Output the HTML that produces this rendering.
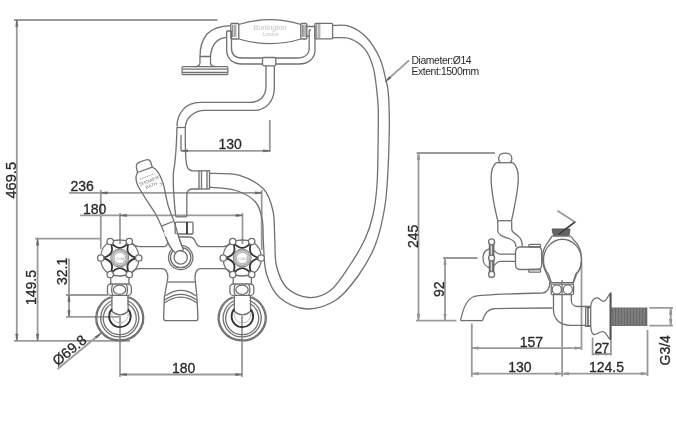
<!DOCTYPE html>
<html><head><meta charset="utf-8">
<style>
html,body{margin:0;padding:0;background:#fff;width:676px;height:421px;overflow:hidden}
svg{display:block}
text{font-family:"Liberation Sans",sans-serif;fill:#2a2a2a;stroke:#2a2a2a;stroke-width:0.3}
svg{will-change:transform}
.d{stroke:#9a9a9a;stroke-width:1.8;fill:none}
.o{stroke:#707070;stroke-width:1.3;fill:none}
.w{stroke:#707070;stroke-width:1.3;fill:#fff}
.k{stroke:#333;stroke-width:1.8;fill:none}
</style></head><body>
<svg width="676" height="421" viewBox="0 0 676 421">
<rect width="676" height="421" fill="#fff"/>

<!-- ===== LEFT VIEW DIMENSIONS ===== -->
<g class="d">
  <path d="M14 20H217.5"/>
  <path d="M16.8 20V340.5"/>
  <path d="M14 340.8H130"/>
  <path d="M37.6 238.7V340.5"/>
  <path d="M35 238.7H101"/>
  <path d="M69 258.6V317"/>
  <path d="M66 295H108"/>
  <path d="M66 316.8H120"/>
  <!-- 236 -->
  <path d="M69 192.9H262"/>
  <path d="M100.8 190V249"/>
  <path d="M261.7 190V250"/>
  <!-- 180 upper -->
  <path d="M80 215.4H243"/>
  <path d="M120 213V244"/>
  <path d="M242.5 213V244"/>
  <!-- 130 -->
  <path d="M181 150.8H269.8"/>
  <path d="M269.8 120V152"/>
  <!-- 180 lower -->
  <path d="M120 316V377"/>
  <path d="M242 316V377"/>
  <path d="M120 374.5H243"/>
  <!-- diameter leader -->
  <path d="M57.5 369L101 333.3"/>
  <!-- hose annotation leader -->
  <path d="M409 60.4L385.3 81.7"/>
</g>

<path d="M15.7 26.5L16.8 20.0L17.9 26.5ZM15.7 334.0L16.8 340.5L17.9 334.0ZM36.5 245.2L37.6 238.7L38.7 245.2ZM36.5 334.0L37.6 340.5L38.7 334.0ZM67.9 301.5L69.0 295.0L70.1 301.5ZM67.9 310.3L69.0 316.8L70.1 310.3ZM107.3 191.8L100.8 192.9L107.3 194.0ZM255.2 191.8L261.7 192.9L255.2 194.0ZM126.5 214.3L120.0 215.4L126.5 216.5ZM236.0 214.3L242.5 215.4L236.0 216.5ZM187.5 149.7L181.0 150.8L187.5 151.9ZM263.3 149.7L269.8 150.8L263.3 151.9ZM126.5 373.4L120.0 374.5L126.5 375.6ZM235.5 373.4L242.0 374.5L235.5 375.6ZM417.4 159.5L418.5 153.0L419.6 159.5ZM417.4 314.1L418.5 320.6L419.6 314.1ZM443.9 264.5L445.0 258.0L446.1 264.5ZM443.9 314.1L445.0 320.6L446.1 314.1ZM478.3 347.0L471.8 348.1L478.3 349.2ZM575.0 347.0L581.5 348.1L575.0 349.2ZM478.3 372.6L471.8 373.7L478.3 374.8ZM555.6 372.6L562.1 373.7L555.6 374.8ZM568.6 372.6L562.1 373.7L568.6 374.8ZM641.0 372.6L647.5 373.7L641.0 374.8ZM599.1 352.9L592.6 354.0L599.1 355.1ZM604.4 352.9L610.9 354.0L604.4 355.1ZM669.6 314.4L670.7 307.9L671.8 314.4ZM669.6 319.2L670.7 325.7L671.8 319.2ZM96.7 338.2L101.0 333.3L95.2 336.6ZM389.4 76.5L385.3 81.7L390.9 78.2Z" stroke="#666" stroke-width="0.6" fill="#666"/>
<!-- ===== LEFT VIEW TEXT ===== -->
<text x="0" y="0" font-size="14.6" transform="translate(15.5 198.5) rotate(-90)">469.5</text>
<text x="0" y="0" font-size="14" transform="translate(35.6 305) rotate(-90)">149.5</text>
<text x="0" y="0" font-size="14" transform="translate(67 285) rotate(-90)">32.1</text>
<text x="70.5" y="191" font-size="14">236</text>
<text x="83" y="214" font-size="14">180</text>
<text x="218.5" y="149" font-size="14">130</text>
<text x="172" y="373" font-size="14">180</text>
<text x="0" y="0" font-size="14.3" transform="translate(57.5 366.5) rotate(-39.5)">Ø69.8</text>
<text x="411.5" y="63.6" font-size="10.4" letter-spacing="-0.42" style="stroke:none">Diameter:Ø14</text>
<text x="411.5" y="75" font-size="10.4" letter-spacing="-0.42" style="stroke:none">Extent:1500mm</text>

<!-- ===== HANDSET ===== -->
<g class="o">
  <!-- shower plate -->
  <rect x="182.1" y="66.7" width="45.7" height="7.8" rx="1"/>
  <path d="M183 69.2H227M183 72.3H227"/>
  <!-- neck -->
  <path d="M200 56.5V63C200 65 198 66.3 195 66.7M210.5 56.5V63C210.5 65 212.5 66.3 215.5 66.7M199.5 56.5H211"/>
  <!-- arm -->
  <path d="M200 56.5C200 48 202 40 207 34C213 28 221 25.8 230.8 25.6"/>
  <path d="M210.5 56.5C211 50 213 45 216 42C219 39 222 37.5 226.7 37.3"/>
  <!-- handle body -->
  <path d="M238.7 24.5C251 20.8 261 19.7 270 19.7C279 19.7 289 20.8 301 24.5M238.7 39C251 42.6 261 43.6 270 43.6C279 43.6 289 42.6 301 39"/>
  <!-- ferrules -->
  <rect x="230.8" y="23.5" width="8" height="15.5" rx="1"/>
  <rect x="300.8" y="23.5" width="6" height="15.5" rx="1"/>
  <path d="M232.6 25V37M234.2 25V37M235.8 25V37M302.4 25V37M303.8 25V37M305.2 25V37" stroke="#777" stroke-width="0.9"/>
  <path d="M306.8 26.5H315M306.8 36H309.2"/>
  <!-- bracket -->
  <path d="M226.7 31V50C226.7 58 232 64 242 64H262.5M275.8 64H299C309 64 315 58 315 50V26"/>
  <path d="M231.5 31V48C231.5 54 235 58 242 58H262.5M275.8 58H297C305 58 309.2 54 309.2 48V30"/>
  <path d="M226.7 31H231.5M309.2 30H311"/>
  <!-- collar -->
  <rect x="262.5" y="57.5" width="13.3" height="8.3" rx="1.5"/>
  <!-- hose connector -->
  <rect x="314.8" y="23.4" width="17.8" height="15.4" rx="1"/>
  <path d="M316.6 24V38.2M318.2 24V38.2M319.8 24V38.2" stroke="#888" stroke-width="0.9"/>
  <!-- stem S-curve -->
  <path d="M274.3 65.8V88C274.3 101 266 110.4 254 110.4H205C194 110.4 185.3 118 185.3 128"/>
  <path d="M266 65.8V86C266 96 260 102.4 250 102.4H200C186 102.4 177 113 177 126.6"/>
  <path d="M176.8 127.5H185.5"/>
  <path d="M181 135V151"/>
</g>
<text x="270" y="30.2" font-size="7.4" text-anchor="middle" style="fill:#c2c2c2;font-style:italic;stroke:none">Burlington</text>
<text x="270.5" y="35.8" font-size="4.8" text-anchor="middle" style="fill:#c2c2c2;font-style:italic;stroke:none">London</text>

<!-- ===== HOSE ===== -->
<g class="o">
  <path d="M209.0 173.3C214.1 173.6 230.4 172.7 239.5 175.3C248.6 177.9 258.0 183.1 263.6 189.0C269.2 194.9 271.1 202.5 273.0 211.0C274.9 219.5 274.2 230.8 274.8 240.0C275.4 249.2 274.5 258.0 276.5 266.0C278.5 274.0 281.6 282.8 287.0 288.0C292.4 293.2 301.7 297.2 309.0 297.5C316.3 297.8 324.2 295.4 331.0 290.0C337.8 284.6 344.3 273.5 350.0 265.0C355.7 256.5 361.2 247.3 365.0 239.0C368.8 230.7 371.0 224.0 373.0 215.0C375.0 206.0 376.2 195.8 377.0 185.0C377.8 174.2 377.8 162.2 378.0 150.0C378.2 137.8 378.4 121.2 378.3 112.0C378.2 102.8 378.0 102.0 377.2 94.7C376.4 87.4 375.4 75.8 373.4 68.2C371.3 60.6 368.8 54.1 364.9 49.2C360.9 44.3 355.1 40.6 349.7 38.7C344.3 36.8 335.5 37.9 332.6 37.8"/>
  <path d="M209.0 187.2C213.5 187.8 228.2 188.0 236.0 190.5C243.8 193.0 251.1 197.1 255.5 202.0C259.9 206.9 261.0 212.8 262.3 220.0C263.6 227.2 262.8 236.0 263.5 245.0C264.2 254.0 263.8 265.2 266.5 274.0C269.2 282.8 273.2 292.2 280.0 298.0C286.8 303.8 297.7 308.7 307.0 309.0C316.3 309.3 327.5 305.5 336.0 300.0C344.5 294.5 351.4 285.2 358.0 276.0C364.6 266.8 370.8 256.5 375.3 245.0C379.8 233.5 382.7 219.5 384.8 207.0C386.9 194.5 387.2 182.8 388.0 170.0C388.8 157.2 389.1 140.8 389.3 130.0C389.5 119.2 389.2 111.7 389.0 105.0C388.8 98.3 388.5 94.2 388.0 90.0C387.5 85.8 387.1 84.8 385.8 79.6C384.5 74.4 383.2 65.7 380.0 58.7C376.8 51.7 371.9 43.2 366.8 37.8C361.8 32.4 355.4 28.5 349.7 26.4C344.0 24.3 335.5 25.6 332.6 25.4"/>
</g>

<!-- ===== DIVERTER BODY ===== -->
<g class="o">
  <path d="M177 127C176.5 145 175.8 160 173.5 172C172.5 185 174 200 175.7 216.5"/>
  <path d="M185.3 128C185.3 145 185 160 187 166C188 169 190 170.8 193 170.8H199"/>
  <path d="M199 189H192C188 189 186.8 192 186.8 196V216.5"/>
  <path d="M175.7 216.8H186.8"/>
  <rect x="199" y="170.8" width="10.5" height="18.2"/>
  <path d="M201.5 171V189M207 171V189"/>
  <!-- lever -->
  <path d="M137.5 172.5L136.4 167.2Q135.9 163.5 139.5 162.2L145.5 160Q149.6 158.8 150.8 162.2L152.3 167.2Z"/>
  <path d="M137.5 172.5C135.5 176 135.3 181 138.5 187C143 195 150 205 155 213C160 222 164 232 166.9 240C169 245 172 250 175.5 252.5"/>
  <path d="M152.3 167.2C157 169 161 177 163.2 183.4C165 190 166 198 168 205C170 212 174 220 175.8 226.9C176.8 230 177.6 233 178.4 236C179.5 240 181.5 245.5 183.6 250.3"/>
  <path d="M161 226.3L172.8 221.5"/>
  <!-- nut under diverter -->
  <rect x="175.2" y="222.1" width="17.8" height="11.9" rx="1"/>
  <path d="M187 222.1V234" stroke="#333" stroke-width="1.8"/>
  <path d="M175.2 234V237H189.4C193 237 195 240 196 243C197 245 198 246.5 200 246.5"/>
</g>
<g transform="translate(149.2 181.2) rotate(-21)">
  <path d="M-8 -5.2H8" stroke="#999" stroke-width="0.9" stroke-dasharray="1.5 1"/>
  <text x="0" y="1.2" font-size="4.6" text-anchor="middle" style="fill:#777;stroke:none">SHOWER</text>
  <text x="0.5" y="6.3" font-size="4.6" text-anchor="middle" style="fill:#777;stroke:none">BATH</text>
  <path d="M9 5.5L11.5 7.5L9 8.5" stroke="#999" stroke-width="0.8" fill="none"/>
</g>

<!-- ===== BODY BETWEEN TAPS ===== -->
<g class="o">
  <path d="M131.7 243.3C133.7 245.5 136 246.6 140 246.6H164.5C166.5 246.5 167.5 244 168 241.7"/>
  <path d="M200 246.6H223.5C226.5 246.6 228.8 245.3 230.8 243.3"/>
  <path d="M131.7 272.5C133.7 270 136 268.6 140 268.6H161.5C165.5 268.6 167.8 272 167.8 277.8L164.3 298L163.6 318C163.6 320 164.5 320.7 166 320.7H196C197.5 320.7 198 320 198 318L197 298L195 277.8C195 272 197 268.6 201 268.6H223.5C226.5 268.6 228.8 270 230.8 272.5"/>
  <path d="M168 282H194.8"/>
  <path d="M165.6 295.7Q180.7 285.1 195.8 295.7M164.6 300Q180.7 288.6 196.8 300M164.3 303Q180.7 291.2 197.1 303"/>
  <!-- diverter circle -->
  <circle cx="180.7" cy="257.5" r="12.2"/>
  <circle cx="180.7" cy="257.5" r="10.2"/>
  <circle cx="180.7" cy="257.5" r="6.6" fill="#fff"/>
  <path d="M163.5 232L177.9 234.5C179.3 239.5 181.5 245.5 183.6 250.3L176.5 253.2C172 250 168.5 244 166.5 239Z" fill="#fff" stroke="none"/>
  <path d="M165.5 236.5C167 241 169.5 246 172 249.5C173 251 174 252 175.5 252.8"/>
  <path d="M177.9 234.5C179.3 239.5 181.5 245.5 183.6 250.3"/>
  <path d="M175.5 252.8A6.6 6.6 0 0 1 183.6 251.5" />
</g>

<!-- ===== TAP (template) ===== -->
<defs>
  <g id="tap">
    <path class="o" d="M19.00 0.00Q19.31 11.15 9.50 16.45M9.50 16.45Q0.00 19.50 -9.50 16.45M-9.50 16.45Q-19.31 11.15 -19.00 0.00M-19.00 0.00Q-19.31 -11.15 -9.50 -16.45M-9.50 -16.45Q-0.00 -19.50 9.50 -16.45M9.50 -16.45Q19.31 -11.15 19.00 0.00"/>
    <path class="k" d="M19.00 0.00Q3.12 1.80 9.50 16.45Q0.00 3.60 -9.50 16.45Q-3.12 1.80 -19.00 0.00Q-3.12 -1.80 -9.50 -16.45Q-0.00 -3.60 9.50 -16.45Q3.12 -1.80 19.00 0.00Z" stroke-width="1.7"/>
    <circle r="8.9" fill="#fff" stroke="#808080" stroke-width="1.1"/>
    <circle r="7.4" fill="none" stroke="#b4b4b4" stroke-width="2"/><circle r="5.7" fill="none" stroke="#999" stroke-width="0.8"/>
    <text x="0" y="1.6" font-size="4.2" text-anchor="middle" style="fill:#aaa;stroke:none">Cold</text>
    <g class="w">
      <circle cx="-9.5" cy="-16.5" r="3.2"/>
      <circle cx="9.5" cy="-16.5" r="3.2"/>
      <circle cx="-19" cy="0" r="3.2"/>
      <circle cx="19" cy="0" r="3.2"/>
      <circle cx="-9.5" cy="16.5" r="3.2"/>
      <circle cx="9.5" cy="16.5" r="3.2"/>
    </g>
    <!-- nut -->
    <g class="o">
      <path d="M-9 19V26M9.2 19V26"/>
      <rect x="-12.3" y="26" width="23.9" height="11.4" rx="3.5"/>
      <ellipse cx="-0.2" cy="31.7" rx="6.2" ry="4.6"/>
      <path d="M-6.8 26.5C-8.6 28.5 -8.6 35 -6.8 37M6.4 26.5C8.2 28.5 8.2 35 6.4 37"/>
      <path d="M-7.85 37V53.2Q0.25 60.5 8.35 53.2V37"/>
    </g>
    <!-- flange -->
    <g class="o">
      <path d="M-7 39A23 22 0 1 0 7 39" transform="translate(0 0)"/>
    </g>
  </g>
  <g id="flange">
    <g class="o">
      <path d="M-9.5 -21.2A24 23 0 1 0 9.5 -21.2"/>
      <path d="M-7.5 -17.5A19 19 0 1 0 7.5 -17.5"/>
      <path d="M-7.5 -14.5A16.5 16.5 0 1 0 7.5 -14.5"/>
    </g>
    <path class="k" d="M-7.9 -8.8A10.8 10.8 0 1 0 8.4 -8.6" stroke-width="2.4" stroke="#3a3a3a"/><path d="M-7.9 -5A8.3 8.3 0 1 0 8.4 -5" fill="none" stroke="#aaa" stroke-width="0.8"/>
  </g>
</defs>
<use href="#tap" x="119.75" y="258"/>
<use href="#tap" x="242.2" y="258"/>
<use href="#flange" x="119.75" y="318"/>
<use href="#flange" x="242.2" y="318"/>

<!-- ===== RIGHT VIEW ===== -->
<g class="d">
  <path d="M416.6 153H495"/>
  <path d="M418.5 153V320.6"/>
  <path d="M443 258H477.5"/>
  <path d="M416 320.6H456.5"/>
  <path d="M445 258V320.6"/>
  <path d="M471.8 323.5V377"/>
  <path d="M471.8 348.1H581.5"/>
  <path d="M471.8 373.7H562.1"/>
  <path d="M562.1 280V376.5"/>
  <path d="M581.5 262V350"/>
  <path d="M592.6 337.4V355.4M610.9 341V355.4M592.6 354H610.9"/>
  <path d="M649.3 307.9H672.9M649.3 325.7H672.9M670.7 307.9V325.7"/>
  <path d="M562.1 373.7H647.5"/>
  <path d="M647.5 330V376"/>
  <path d="M557.5 210.7L575 222L558.7 234.2"/>
</g>
<text x="0" y="0" font-size="14" transform="translate(417.5 248) rotate(-90)">245</text>
<text x="0" y="0" font-size="14" transform="translate(443.5 297) rotate(-90)">92</text>
<text x="519.8" y="346.5" font-size="14">157</text>
<text x="508.2" y="372.4" font-size="14">130</text>
<text x="594.6" y="353" font-size="14" letter-spacing="-0.9">27</text>
<text x="589" y="372.4" font-size="14">124.5</text>
<text x="0" y="0" font-size="14" transform="translate(670 365.5) rotate(-90)">G3/4</text>

<g class="o">
  <!-- lever side view -->
  <path d="M500.5 162.7C498.3 161.5 498.3 157.5 499.5 155.5C500.5 153.6 502.5 153.1 505.2 153.1C508 153.1 510 153.6 511 155.5C512.2 157.5 512.2 161.5 510 162.7"/>
  <path d="M496 162.7H513"/>
  <path d="M496 162.7C492.5 166 491.1 171 491.1 178C491.1 190 494 205 497.7 220.7"/>
  <path d="M513 162.7C516.8 166 518.3 171 518.3 178C518.3 190 515 205 511.5 220.7"/>
  <path d="M497.8 220.7H511.7"/>
  <path d="M497.8 220.7V231C497.8 235 503 237 510 239C514 240.5 516 243 516 247"/>
  <path d="M511.7 220.7V229C511.7 232 515 234 518 236C521 238 522.4 241 522.4 247"/>
  <!-- cross handle -->
  <path d="M491.4 248.3C486 249 483 253 483 258.2C483 263.5 486 267.5 491.4 268"/>
  <rect x="489.2" y="244" width="4.8" height="28" fill="#7a7a7a" stroke="#555" stroke-width="0.8"/>
  <path d="M491.4 244V272" stroke="#ddd" stroke-width="1.2"/>
  <circle cx="491.6" cy="241.8" r="3" fill="#fff"/>
  <circle cx="491.6" cy="274.4" r="3" fill="#fff"/>
  <circle cx="491.6" cy="258.1" r="3" fill="#fff"/>
  <path d="M494 250.5C496 252 497 254.2 500 254.2H515.5M494 265.5C496 264 497 261.4 500 261.4H515.5"/>
  <!-- connector -->
  <path d="M520 247H538C541 247 541.7 250 541.7 252V265C541.7 268 540 269.5 537 269.5H520C517 269.5 515.5 267 515.5 264V252.5C515.5 249.5 517 247 520 247Z"/>
  <rect x="528.8" y="244.3" width="11.8" height="2.7" rx="1"/>
  <rect x="528.8" y="269.5" width="11.8" height="2.7" rx="1"/>
  <!-- valve body -->
  <path d="M546.4 244.7L552 236.1H570.5L577.7 244.7C580.5 249 581.5 254 581.5 260C581.5 266 579.5 271 575.8 274L573 282.7H550.2L546.4 273.2C544 269 542.6 264 542.6 258C542.6 252 544 248 546.4 244.7Z"/>
  <path d="M548.4 274A19 20.8 0 1 1 576.6 274"/><path d="M548.4 274L551.5 283M576.6 274L573.3 283"/>
  <!-- nuts under body -->
  <rect x="551.2" y="284.2" width="22.4" height="10.5" rx="1.5"/>
  <circle cx="556.8" cy="289.5" r="4.6"/>
  <circle cx="567.9" cy="289.5" r="4.6"/>
  <path d="M550.2 282.7V284.4M573 282.7V284.4"/>
  <!-- pipe to flange -->
  <path d="M553.5 294.7V310C553.5 319 560 325 570 325.3H585.7"/>
  <path d="M571.3 294.7V300C571.3 304 574 306.5 578 306.5H585.7"/>
  <!-- spout -->
  <path d="M460.6 320.6C463 308 467 299 474 296.5C480 295 500 294 542.8 293C547 292.5 549.5 290 550 282"/>
  <path d="M482.5 320.6C485 313 488 309 495 308.6L552.5 308"/>
  <path d="M460.6 320.6H482.5"/>
  <!-- flange side -->
  <path d="M585.7 306.4H590.7V326.4H585.7Z"/>
  <path d="M590.7 306C591.5 301 594 297.9 597 297.9C600 297.9 601 301.4 603.6 301.4C606.5 301.4 608 295 610.7 292.9V340.2C608 338 606 331.7 602.6 331.7C599 331.7 597 334.8 594 334.5C591.5 334.2 591 330 590.7 326.5"/>
  <path d="M586.3 307.5H590M586.3 326H590"/>
</g>
<path d="M588 307V326" stroke="#555" stroke-width="1.4"/><path d="M610.5 293.5V339.5" stroke="#555" stroke-width="2"/>
<!-- threaded rod -->
<rect x="611.2" y="307.5" width="36.1" height="18.5" fill="#6a6a6a"/>
<g stroke="#999" stroke-width="0.8">
  <path d="M614 308V325.5M617 308V325.5M620 308V325.5M623 308V325.5M626 308V325.5M629 308V325.5M632 308V325.5M635 308V325.5M638 308V325.5M641 308V325.5M644 308V325.5"/>
</g>
<!-- dark cap -->
<path d="M552 229H570L569 235.2H553.5Z" fill="#666" stroke="#555" stroke-width="1"/><path d="M575 222L558.7 234.2" stroke="#333" stroke-width="1.2"/>

</svg>
</body></html>
